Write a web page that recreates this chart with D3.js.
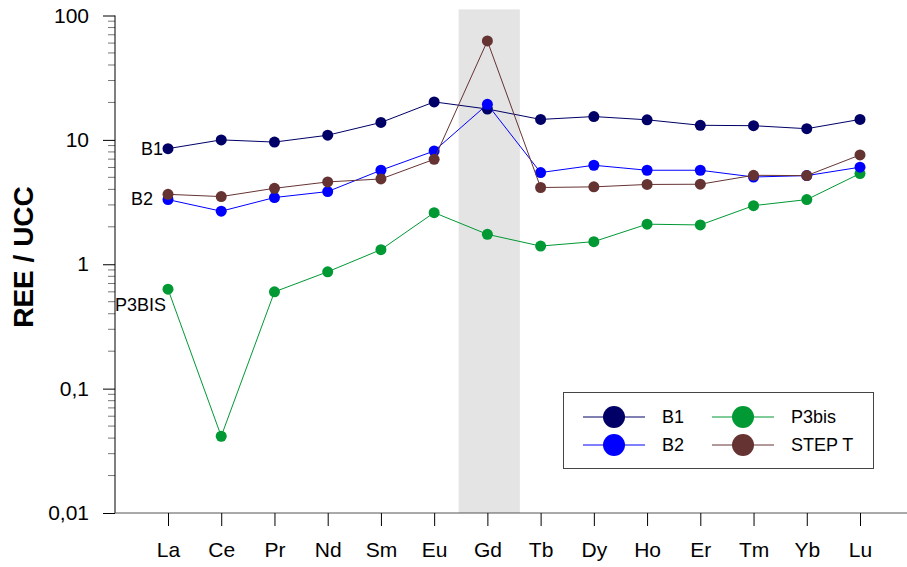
<!DOCTYPE html>
<html><head><meta charset="utf-8">
<script src="https://cdn.jsdelivr.net/npm/d3@7"></script>
<style>body{margin:0;background:#fff}svg{display:block;font-family:"Liberation Sans",Arial,sans-serif}</style>
</head><body>
<svg id="c" width="907" height="567"></svg>
<script>
const categories = ["La","Ce","Pr","Nd","Sm","Eu","Gd","Tb","Dy","Ho","Er","Tm","Yb","Lu"];
const B1 = [8.5,10.0,9.6,10.9,13.8,20.2,17.7,14.6,15.4,14.5,13.1,13.0,12.3,14.6];
const P3bis = [0.63,0.0414,0.60,0.87,1.31,2.60,1.74,1.40,1.52,2.10,2.07,2.96,3.31,5.36];
const B2 = [3.31,2.67,3.44,3.84,5.70,8.14,19.3,5.46,6.25,5.70,5.70,5.03,5.16,6.03];
const STEPT = [3.65,3.50,4.08,4.59,4.85,6.98,62.4,4.14,4.19,4.38,4.40,5.19,5.16,7.56];
const yTickValues = [0.01,0.1,1,10,100];
const yTickLabels = ["0,01","0,1","1","10","100"];
const highlight = "Gd";

const series = [
  {name:"B1", values:B1, color:"#000066", label:"B1"},
  {name:"P3bis", values:P3bis, color:"#009933", label:"P3BIS"},
  {name:"B2", values:B2, color:"#0000ff", label:"B2"},
  {name:"STEP T", values:STEPT, color:"#663333", label:null}
];

const svg = d3.select("#c");
const x = d3.scalePoint().domain(categories).range([168, 860]);
const y = d3.scaleLog().domain([0.01, 100]).range([513, 15.5]);
const axX = 115, axY = 513;
const step = x.step();

// highlight band
svg.append("rect")
  .attr("x", x(highlight) - step*0.54).attr("width", step*1.15)
  .attr("y", y(112)).attr("height", axY - y(112))
  .attr("fill", "#e4e4e4");

// y axis minor ticks
const minors = [];
for (let e=-2; e<2; e++) for (let m=2; m<=9; m++) minors.push(m*Math.pow(10,e));
svg.append("g").selectAll("line").data(minors).join("line")
  .attr("x1", axX-7).attr("x2", axX).attr("y1", d=>y(d)).attr("y2", d=>y(d))
  .attr("stroke", "#777").attr("stroke-width", 1);

// y axis
const yAxis = d3.axisLeft(y).tickValues(yTickValues)
  .tickFormat((d,i)=>yTickLabels[i]).tickSize(12).tickPadding(14);
const gy = svg.append("g").attr("transform", `translate(${axX},0)`).call(yAxis);
gy.select(".domain").attr("d", `M0,${y(100)}V${axY}`).attr("stroke","#000");
gy.selectAll(".tick line").attr("stroke","#000");
gy.selectAll("text").attr("font-size", 21).attr("font-family","Liberation Sans, Arial, sans-serif").attr("fill","#000");

// x axis
const xAxis = d3.axisBottom(x).tickSize(13).tickPadding(16);
const gx = svg.append("g").attr("transform", `translate(0,${axY})`).call(xAxis);
gx.select(".domain").attr("d", `M${axX},0H907`).attr("stroke","#555");
gx.selectAll(".tick line").attr("stroke","#000");
gx.selectAll("text").attr("font-size", 21).attr("font-family","Liberation Sans, Arial, sans-serif").attr("fill","#000");

// y title
svg.append("text").attr("transform","translate(33,257) rotate(-90)")
  .attr("text-anchor","middle").attr("font-size",28).attr("font-weight","bold")
  .text("REE / UCC");

// series
const line = d3.line().x((d,i)=>x(categories[i])).y(d=>y(d));
series.forEach(s=>{
  const g = svg.append("g");
  g.append("path").attr("d", line(s.values)).attr("fill","none")
    .attr("stroke", s.color).attr("stroke-width", 1);
  g.selectAll("circle").data(s.values).join("circle")
    .attr("cx",(d,i)=>x(categories[i])).attr("cy", d=>y(d)).attr("r", 5.5)
    .attr("fill", s.color);
});

// series labels at left
const lbl = [
  {t:"B1", v:B1[0], dx:-5, dy:0},
  {t:"B2", v:B2[0], dx:-15, dy:-1},
  {t:"P3BIS", v:P3bis[0], dx:-2, dy:16}
];
svg.append("g").selectAll("text").data(lbl).join("text")
  .attr("x", d=>x("La")+d.dx).attr("y", d=>y(d.v)+d.dy)
  .attr("text-anchor","end").attr("dominant-baseline","central")
  .attr("font-size",18).text(d=>d.t);

// legend
const lg = svg.append("g");
lg.append("rect").attr("x",563.5).attr("y",392.5).attr("width",310).attr("height",76)
  .attr("fill","#fff").attr("stroke","#444").attr("stroke-width",1);
const legendItems = [
  {s:series[0], cx:614, ty:417},
  {s:series[2], cx:614, ty:445},
  {s:series[1], cx:743, ty:417},
  {s:series[3], cx:743, ty:445}
];
legendItems.forEach(it=>{
  lg.append("line").attr("x1",it.cx-31).attr("x2",it.cx+31).attr("y1",it.ty).attr("y2",it.ty)
    .attr("stroke",it.s.color).attr("stroke-width",1);
  lg.append("circle").attr("cx",it.cx).attr("cy",it.ty).attr("r",11).attr("fill",it.s.color);
  lg.append("text").attr("x",it.cx+48).attr("y",it.ty).attr("dominant-baseline","central")
    .attr("font-size",18).text(it.s.name);
});
</script>
</body></html>
